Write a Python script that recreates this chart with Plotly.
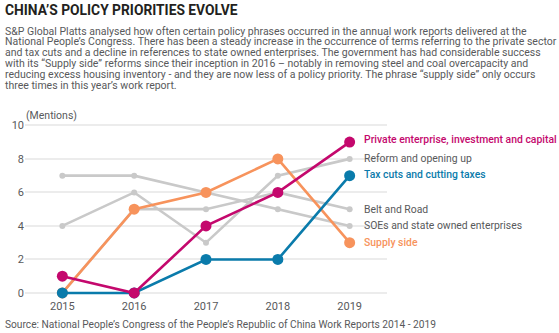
import plotly.graph_objects as go

years = [2015, 2016, 2017, 2018, 2019]
private_ent = [1, 0, 4, 6, 9]
reform = [4, 6, 3, 7, 8]
tax_cuts = [0, 0, 2, 2, 7]
belt_road = [0, 5, 5, 6, 5]
soes = [7, 7, 6, 5, 4]
supply_side = [0, 5, 6, 8, 3]

y_ticks = [0, 2, 4, 6, 8, 10]

title = "CHINA\u2019S POLICY PRIORITIES EVOLVE"
subtitle_lines = [
    "S&P Global Platts analysed how often certain policy phrases occurred in the annual work reports delivered at the",
    "National People\u2019s Congress. There has been a steady increase in the occurrence of terms referring to the private sector",
    "and tax cuts and a decline in references to state owned enterprises. The government has had considerable success",
    "with its \u201cSupply side\u201d reforms since their inception in 2016 \u2013 notably in removing steel and coal overcapacity and",
    "reducing excess housing inventory - and they are now less of a policy priority. The phrase \u201csupply side\u201d only occurs",
    "three times in this year\u2019s work report.",
]
source = "Source: National People\u2019s Congress of the People\u2019s Republic of China Work Reports 2014 - 2019"

GRAY = "#c9c9c9"
MAGENTA = "#c4086d"
TEAL = "#0a7bab"
ORANGE = "#f7935c"
TEXT = "#58595b"

FONT = "Roboto, sans-serif"

series = [
    ("Reform and opening up", reform, GRAY, TEXT, False),
    ("Belt and Road", belt_road, GRAY, TEXT, False),
    ("SOEs and state owned enterprises", soes, GRAY, TEXT, False),
    ("Supply side", supply_side, ORANGE, ORANGE, True),
    ("Tax cuts and cutting taxes", tax_cuts, TEAL, TEAL, True),
    ("Private enterprise, investment and capital", private_ent, MAGENTA, MAGENTA, True),
]

W, H = 559, 333
ML, MR, MT, MB = 20, 172, 122, 35

fig = go.Figure()
for name, vals, col, lcol, big in series:
    fig.add_trace(go.Scatter(
        x=years, y=vals, mode="lines+markers", name=name,
        line=dict(color=col, width=2.6),
        marker=dict(color=col, size=11 if big else 6),
        cliponaxis=False, showlegend=False,
    ))

label_shift = {
    "Private enterprise, investment and capital": 3,
    "Reform and opening up": 0,
    "Tax cuts and cutting taxes": 1,
    "Belt and Road": 0,
    "SOEs and state owned enterprises": 0,
    "Supply side": 0,
}
for name, vals, col, lcol, big in series:
    fig.add_annotation(
        x=years[-1], y=vals[-1], xref="x", yref="y", text=name,
        showarrow=False, xanchor="left", yanchor="middle", xshift=12,
        yshift=label_shift[name],
        font=dict(family=FONT, size=10.4, color=lcol,
                  weight=500 if big else 400),
    )


def pix_text(text, px, py, size, color, bold=False):
    fig.add_annotation(
        x=0, y=1, xref="paper", yref="paper", xanchor="left", yanchor="middle",
        xshift=px - ML, yshift=MT - py, text=text, showarrow=False, align="left",
        borderpad=0,
        font=dict(family=FONT, size=size, color=color, weight=700 if bold else 400),
    )


pix_text(title, -1, 10, 13.8, "#231f20", bold=True)
for i, line in enumerate(subtitle_lines):
    pix_text(line, -1, 31 + i * 10.9, 10.5, TEXT)
pix_text(source, -1, 324, 10.2, TEXT)
pix_text("(Mentions)", 20, 115, 10.5, TEXT)

fig.update_layout(
    width=W, height=H,
    margin=dict(l=ML, r=MR, t=MT, b=MB),
    paper_bgcolor="white", plot_bgcolor="white",
    xaxis=dict(range=[2014.48, 2019.52], tickvals=years, showgrid=False, zeroline=False,
               showline=False, ticks="", tickfont=dict(family=FONT, size=11, color=TEXT)),
    yaxis=dict(range=[-0.3, 10.2], tickvals=y_ticks, showgrid=True, gridcolor="#ececec",
               gridwidth=1.5, zeroline=False, showline=False, ticks="",
               tickfont=dict(family=FONT, size=11, color=TEXT)),
)

fig.write_html("out.html")
